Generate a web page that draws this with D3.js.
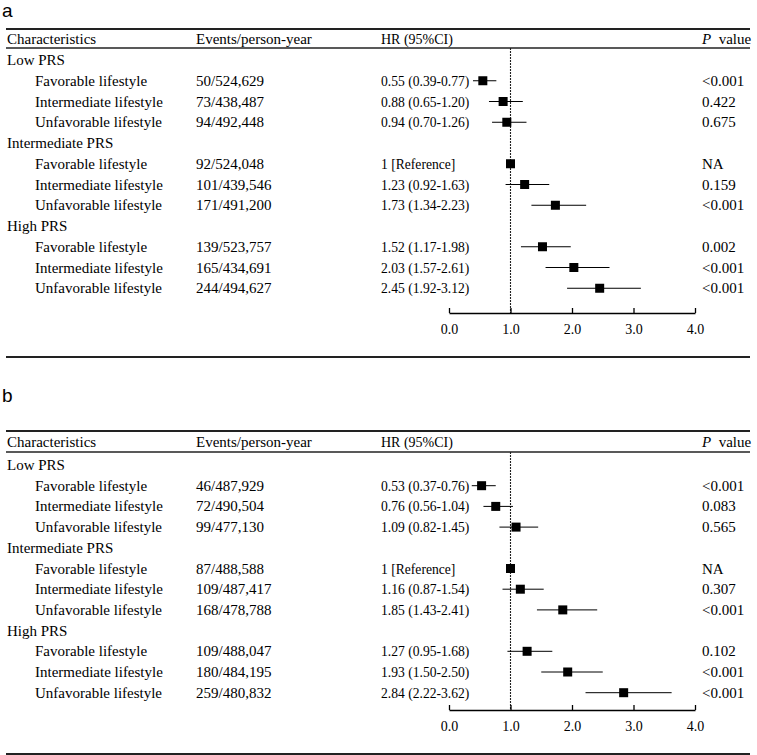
<!DOCTYPE html>
<html>
<head>
<meta charset="utf-8">
<script src="https://cdn.jsdelivr.net/npm/d3@7"></script>
<style>
  body { margin: 0; background: #fff; }
  svg text { font-family: "Liberation Serif", "Times New Roman", serif; font-size: 15px; fill: #000; }
</style>
</head>
<body>
<div id="chart"></div>
<script>
// Table content shared by both panels
const groups = ['Low PRS', 'Intermediate PRS', 'High PRS'];
const lifestyles = ['Favorable lifestyle', 'Intermediate lifestyle', 'Unfavorable lifestyle'];
const headers = ['Characteristics', 'Events/person-year', 'HR (95%CI)'];
const ticks = [0, 1, 2, 3, 4];

// Panel a
const eventsA = ['50/524,629', '73/438,487', '94/492,448',
                 '92/524,048', '101/439,546', '171/491,200',
                 '139/523,757', '165/434,691', '244/494,627'];
const hrA = [0.55, 0.88, 0.94, 1, 1.23, 1.73, 1.52, 2.03, 2.45];
const lowA = [0.39, 0.65, 0.70, null, 0.92, 1.34, 1.17, 1.57, 1.92];
const highA = [0.77, 1.20, 1.26, null, 1.63, 2.23, 1.98, 2.61, 3.12];
const pA = ['<0.001', '0.422', '0.675', 'NA', '0.159', '<0.001', '0.002', '<0.001', '<0.001'];

// Panel b
const eventsB = ['46/487,929', '72/490,504', '99/477,130',
                 '87/488,588', '109/487,417', '168/478,788',
                 '109/488,047', '180/484,195', '259/480,832'];
const hrB = [0.53, 0.76, 1.09, 1, 1.16, 1.85, 1.27, 1.93, 2.84];
const lowB = [0.37, 0.56, 0.82, null, 0.87, 1.43, 0.95, 1.50, 2.22];
const highB = [0.76, 1.04, 1.45, null, 1.54, 2.41, 1.68, 2.50, 3.62];
const pB = ['<0.001', '0.083', '0.565', 'NA', '0.307', '<0.001', '0.102', '<0.001', '<0.001'];

const W = 757, H = 755;
const svg = d3.select('#chart').append('svg')
    .attr('width', W).attr('height', H);

const x = d3.scaleLinear().domain([0, 4]).range([449, 695]);
const col = { label: 7, indent: 35, events: 196, hr: 381, p: 702, right: 750 };
const hrFont = '13.6px';

function drawPanel(letter, events, hr, lo, hi, p, pos) {
    const g = svg.append('g');

    g.append('text').text(letter)
        .attr('x', 2).attr('y', pos.letter)
        .style('font-family', '"Liberation Sans", Arial, sans-serif')
        .style('font-size', '19px');

    // horizontal rules
    g.append('line').attr('x1', 6).attr('x2', col.right)
        .attr('y1', pos.top).attr('y2', pos.top)
        .attr('stroke', '#222').attr('stroke-width', 2);
    g.append('line').attr('x1', 6).attr('x2', col.right)
        .attr('y1', pos.sep).attr('y2', pos.sep)
        .attr('stroke', '#222').attr('stroke-width', 1.3);
    g.append('line').attr('x1', 6).attr('x2', col.right)
        .attr('y1', pos.bottom).attr('y2', pos.bottom)
        .attr('stroke', '#222').attr('stroke-width', 2);

    // header
    const hy = (pos.top + pos.sep) / 2 + 5.5;
    g.append('text').attr('x', col.label).attr('y', hy).text(headers[0]);
    g.append('text').attr('x', col.events).attr('y', hy).text(headers[1]);
    g.append('text').attr('x', col.hr).attr('y', hy).style('font-size', '14px').text(headers[2]);
    const pv = g.append('text').attr('x', col.p).attr('y', hy);
    pv.append('tspan').style('font-style', 'italic').text('P');
    pv.append('tspan').text('\u00a0 value');

    // rows: group label followed by three lifestyle rows
    const rowY = i => pos.row0 + i * pos.step;
    const rows = [];
    groups.forEach((grp, gi) => {
        rows.push({ type: 'group', label: grp });
        lifestyles.forEach((ls, li) => rows.push({ type: 'item', label: ls, k: gi * 3 + li }));
    });

    rows.forEach((r, i) => {
        const y = rowY(i) + 5;
        if (r.type === 'group') {
            g.append('text').attr('x', col.label).attr('y', y).text(r.label);
            return;
        }
        const k = r.k;
        g.append('text').attr('x', col.indent).attr('y', y).text(r.label);
        g.append('text').attr('x', col.events).attr('y', y).text(events[k]);
        const hrText = lo[k] === null ? '1 [Reference]'
            : hr[k].toFixed(2) + ' (' + lo[k].toFixed(2) + '-' + hi[k].toFixed(2) + ')';
        g.append('text').attr('x', col.hr).attr('y', y).style('font-size', hrFont).text(hrText);
        g.append('text').attr('x', col.p).attr('y', y).text(p[k]);
    });

    // reference line at HR = 1
    g.append('line')
        .attr('x1', x(1)).attr('x2', x(1))
        .attr('y1', pos.sep).attr('y2', pos.axis)
        .attr('stroke', '#222').attr('stroke-width', 1.1)
        .attr('stroke-dasharray', '2,1');

    // CI whiskers and squares
    const items = rows.map((r, i) => ({ ...r, i })).filter(r => r.type === 'item');
    g.selectAll('.ci').data(items.filter(d => lo[d.k] !== null)).enter()
        .append('line')
        .attr('x1', d => x(lo[d.k])).attr('x2', d => x(hi[d.k]))
        .attr('y1', d => rowY(d.i)).attr('y2', d => rowY(d.i))
        .attr('stroke', '#000').attr('stroke-width', 1);
    const s = 9;
    g.selectAll('.pt').data(items).enter()
        .append('rect')
        .attr('x', d => x(hr[d.k]) - s / 2).attr('y', d => rowY(d.i) - s / 2)
        .attr('width', s).attr('height', s).attr('fill', '#000');

    // x axis with upward ticks
    const axis = g.append('g')
        .attr('transform', 'translate(0,' + pos.axis + ')')
        .call(d3.axisBottom(x).tickValues(ticks).tickSizeInner(-5).tickSizeOuter(0).tickFormat(d3.format('.1f')));
    axis.select('.domain').attr('stroke', '#000').attr('stroke-width', 1.3);
    axis.selectAll('.tick line').attr('stroke', '#000').attr('stroke-width', 1.3);
    axis.selectAll('.tick text')
        .attr('y', 11)
        .style('font-family', '"Liberation Serif", "Times New Roman", serif')
        .style('font-size', '14px')
        .attr('fill', '#000');
}

drawPanel('a', eventsA, hrA, lowA, highA, pA,
    { letter: 17, top: 29, sep: 48, row0: 60, step: 20.75, axis: 313, bottom: 357 });
drawPanel('b', eventsB, hrB, lowB, highB, pB,
    { letter: 402, top: 431, sep: 452, row0: 465, step: 20.7, axis: 710, bottom: 754 });
</script>
</body>
</html>
